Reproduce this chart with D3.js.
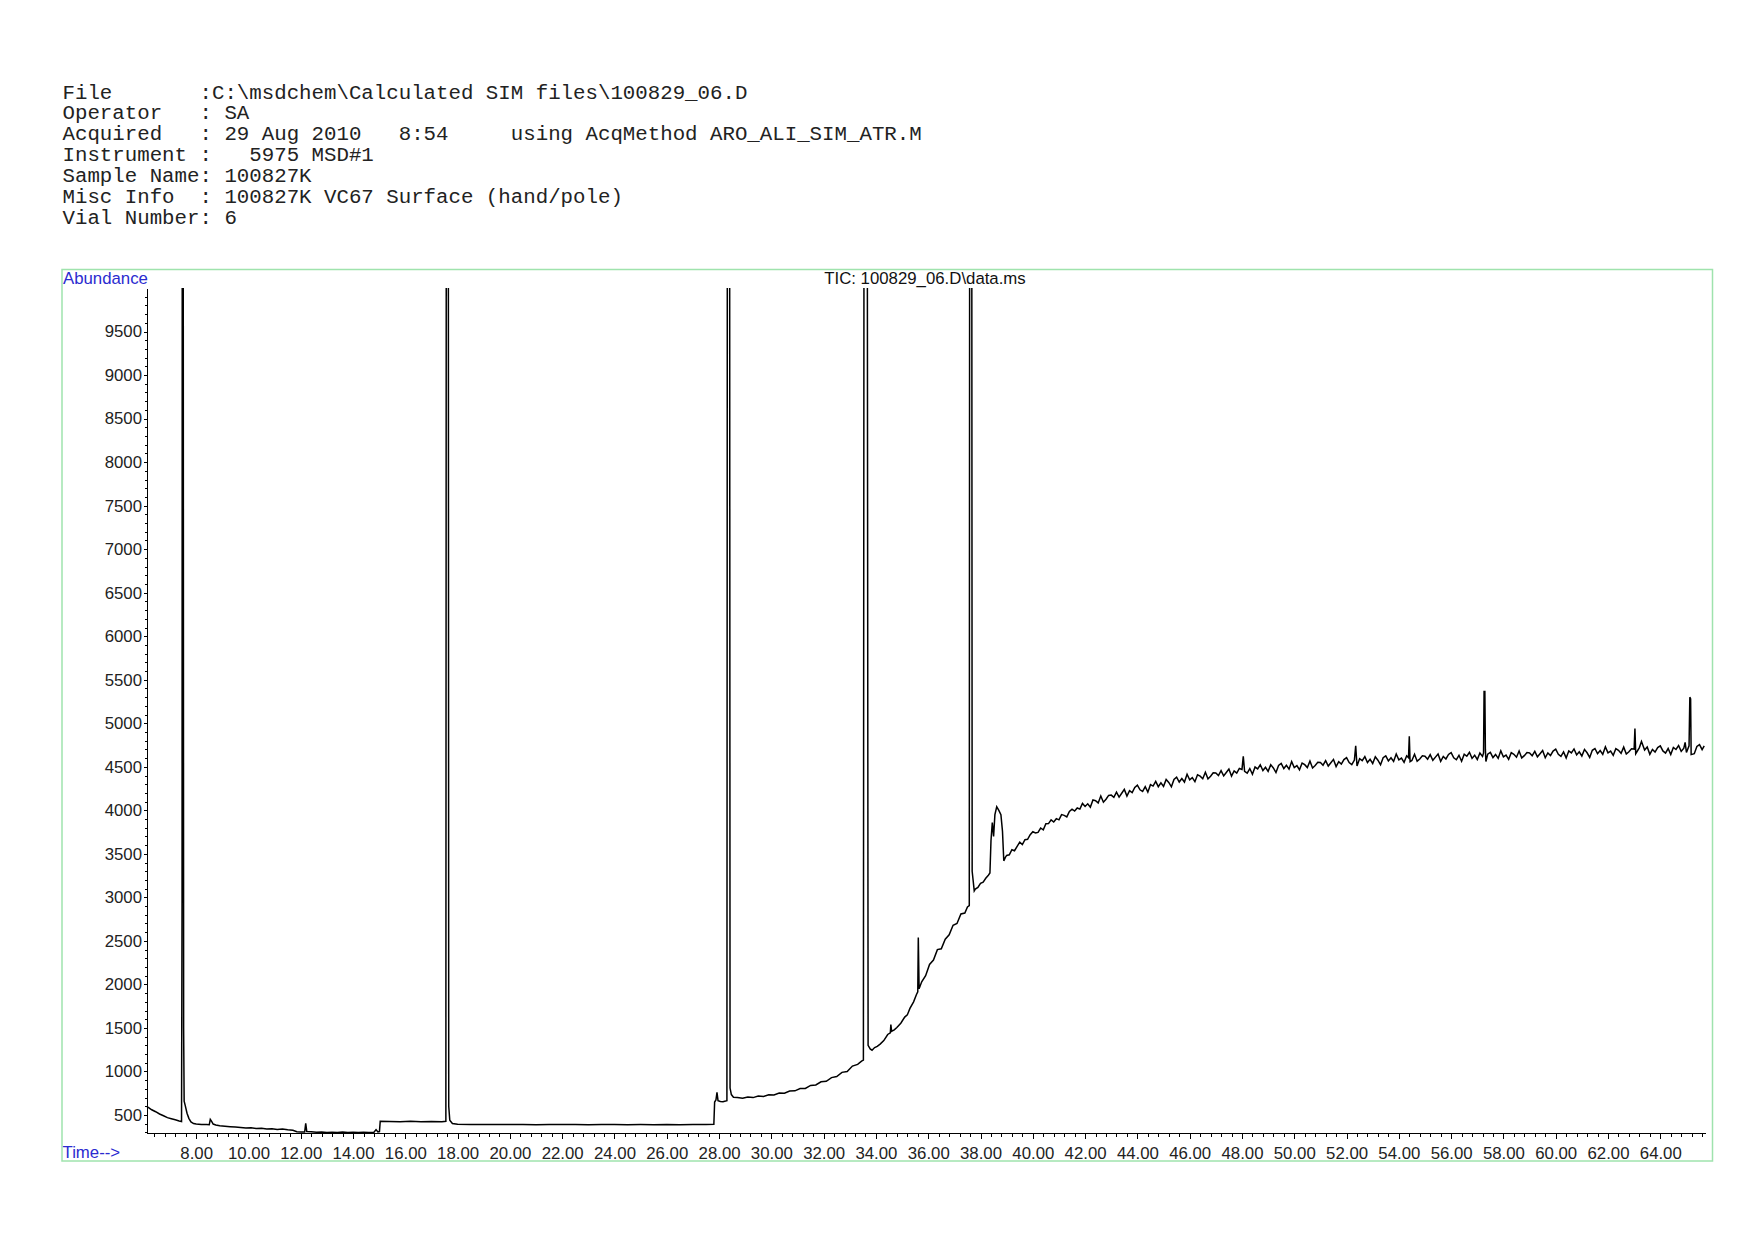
<!DOCTYPE html>
<html>
<head>
<meta charset="utf-8">
<script src="https://cdn.jsdelivr.net/npm/d3@7"></script>
<style>
body { margin: 0; background: #fff; }
</style>
</head>
<body>
<div class="chart"></div>
<script>
// report header, as printed by the data system
var headerLines = [
	'File       :C:\\msdchem\\Calculated SIM files\\100829_06.D',
	'Operator   : SA',
	'Acquired   : 29 Aug 2010   8:54     using AcqMethod ARO_ALI_SIM_ATR.M',
	'Instrument :   5975 MSD#1',
	'Sample Name: 100827K',
	'Misc Info  : 100827K VC67 Surface (hand/pole)',
	'Vial Number: 6'
];
var chartTitle = 'TIC: 100829_06.D\\data.ms';
var yLabel = 'Abundance';
var xLabel = 'Time-->';

var yTicks = [500, 1000, 1500, 2000, 2500, 3000, 3500, 4000, 4500, 5000,
	5500, 6000, 6500, 7000, 7500, 8000, 8500, 9000, 9500];
var xTicks = [8, 10, 12, 14, 16, 18, 20, 22, 24, 26, 28, 30, 32, 34, 36,
	38, 40, 42, 44, 46, 48, 50, 52, 54, 56, 58, 60, 62, 64];

// TIC trace: [time (min), abundance]
// big peaks run off the top of the scale, so they are given as 14000
var tic = [
	[6.10, 600], [6.18, 585], [6.30, 560], [6.45, 538], [6.60, 512], [6.75, 492],
	[6.90, 470], [7.05, 458], [7.20, 445], [7.35, 432], [7.44, 425],
	[7.46, 3000], [7.47, 14000], [7.50, 14000], [7.52, 1500], [7.54, 660],
	[7.58, 610], [7.65, 520], [7.72, 462], [7.80, 420], [7.90, 402], [8.00, 396],
	[8.20, 392], [8.40, 390], [8.50, 388], [8.54, 450], [8.58, 432], [8.65, 396],
	[8.75, 385], [8.90, 376], [9.10, 372], [9.30, 366], [9.50, 361], [9.70, 357],
	[9.90, 350], [10.10, 354], [10.30, 345], [10.50, 349], [10.70, 340], [10.90, 343],
	[11.10, 335], [11.30, 338], [11.50, 330], [11.70, 325], [11.85, 308], [12.00, 305],
	[12.15, 306], [12.19, 405], [12.23, 310], [12.40, 308], [12.60, 302], [12.80, 306],
	[13.00, 300], [13.20, 303], [13.40, 300], [13.60, 305], [13.80, 300], [14.00, 302],
	[14.20, 300], [14.40, 303], [14.60, 300], [14.80, 302], [14.88, 332], [14.95, 306],
	[15.01, 310], [15.04, 428], [15.40, 426], [15.80, 424], [16.20, 427], [16.60, 424],
	[17.00, 425], [17.40, 423], [17.55, 428],
	[17.57, 14000], [17.64, 14000], [17.66, 600], [17.70, 440], [17.80, 402], [18.00, 394],
	[18.50, 392], [19.00, 390], [19.50, 392], [20.00, 390], [20.50, 391], [21.00, 389],
	[21.50, 391], [22.00, 390], [22.50, 392], [23.00, 389], [23.50, 391], [24.00, 390],
	[24.50, 388], [25.00, 390], [25.50, 389], [26.00, 391], [26.50, 389], [27.00, 392],
	[27.50, 390], [27.80, 393],
	[27.83, 650], [27.88, 672], [27.92, 760], [27.96, 665], [28.05, 655], [28.15, 652],
	[28.25, 660], [28.30, 665],
	[28.32, 14000], [28.40, 14000], [28.42, 810], [28.47, 735], [28.55, 705], [28.70, 700],
	[28.90, 692], [29.10, 706], [29.30, 700], [29.50, 718], [29.70, 712], [29.90, 732],
	[30.10, 730], [30.30, 752], [30.50, 750], [30.70, 775], [30.90, 778], [31.10, 805],
	[31.30, 806], [31.50, 840], [31.70, 845], [31.90, 882], [32.10, 888], [32.30, 930],
	[32.50, 942], [32.70, 990], [32.90, 1000], [33.10, 1062], [33.30, 1082], [33.45, 1118],
	[33.52, 1130],
	[33.55, 14000], [33.66, 14000], [33.70, 1300], [33.78, 1260], [33.85, 1245], [33.95, 1275],
	[34.05, 1288], [34.16, 1315], [34.30, 1355], [34.45, 1425], [34.55, 1445], [34.57, 1540],
	[34.60, 1462], [34.70, 1478], [34.80, 1505], [34.95, 1555], [35.10, 1625], [35.20, 1650],
	[35.30, 1725], [35.44, 1800], [35.55, 1885], [35.60, 1915], [35.62, 2540], [35.65, 1950],
	[35.75, 2030], [35.90, 2100], [36.05, 2230], [36.20, 2280], [36.35, 2400], [36.50, 2410],
	[36.65, 2520], [36.80, 2570], [36.95, 2680], [37.10, 2700], [37.25, 2810], [37.40, 2820],
	[37.50, 2890], [37.57, 2905],
	[37.59, 14000], [37.66, 14000], [37.68, 3300], [37.76, 3075], [37.80, 3095], [37.90, 3115],
	[38.00, 3160], [38.10, 3175], [38.20, 3220], [38.30, 3255], [38.36, 3280], [38.40, 3650],
	[38.45, 3860], [38.50, 3700], [38.55, 3950], [38.62, 4040], [38.70, 4000], [38.78, 3950],
	[38.84, 3760], [38.89, 3420], [38.95, 3460],
	[39.0, 3482], [39.1, 3489], [39.2, 3547], [39.3, 3536], [39.4, 3585], [39.5, 3634],
	[39.6, 3606], [39.7, 3662], [39.8, 3667], [39.9, 3720], [40.0, 3755], [40.1, 3740],
	[40.2, 3746], [40.3, 3797], [40.4, 3776], [40.5, 3845], [40.6, 3847], [40.7, 3891],
	[40.8, 3866], [40.9, 3904], [41.0, 3891], [41.1, 3951], [41.2, 3942], [41.3, 3924],
	[41.4, 3987], [41.5, 4014], [41.6, 3992], [41.7, 4027], [41.8, 4014], [41.9, 4079],
	[42.0, 4045], [42.1, 4075], [42.2, 4035], [42.3, 4120], [42.4, 4110], [42.5, 4085],
	[42.6, 4164], [42.7, 4093], [42.8, 4127], [42.9, 4171], [43.0, 4175], [43.1, 4149],
	[43.2, 4208], [43.3, 4152], [43.4, 4196], [43.5, 4240], [43.6, 4163], [43.7, 4226],
	[43.8, 4204], [43.9, 4262], [44.0, 4290], [44.1, 4236], [44.2, 4217], [44.3, 4273],
	[44.4, 4209], [44.5, 4295], [44.6, 4279], [44.7, 4333], [44.8, 4272], [44.9, 4316],
	[45.0, 4275], [45.1, 4355], [45.2, 4320], [45.3, 4270], [45.4, 4355], [45.5, 4380],
	[45.6, 4325], [45.7, 4365], [45.8, 4325], [45.9, 4415], [46.0, 4350], [46.1, 4375],
	[46.2, 4329], [46.3, 4409], [46.4, 4393], [46.5, 4363], [46.6, 4437], [46.7, 4362],
	[46.8, 4391], [46.9, 4431], [47.0, 4430], [47.1, 4400], [47.2, 4455], [47.3, 4395],
	[47.4, 4435], [47.5, 4475], [47.6, 4394], [47.7, 4453], [47.8, 4427], [47.9, 4481],
	[48.0, 4470], [48.05, 4620], [48.1, 4448], [48.2, 4427], [48.3, 4480], [48.4, 4414],
	[48.5, 4497], [48.6, 4475], [48.7, 4523], [48.8, 4457], [48.9, 4495], [49.0, 4448],
	[49.1, 4525], [49.2, 4487], [49.3, 4434], [49.4, 4516], [49.5, 4538], [49.6, 4480],
	[49.7, 4517], [49.8, 4473], [49.9, 4560], [50.0, 4492], [50.1, 4514], [50.2, 4466],
	[50.3, 4543], [50.4, 4525], [50.5, 4492], [50.6, 4565], [50.7, 4487], [50.8, 4515],
	[50.9, 4552], [51.0, 4550], [51.1, 4518], [51.2, 4571], [51.3, 4509], [51.4, 4547],
	[51.5, 4585], [51.6, 4502], [51.7, 4559], [51.8, 4531], [51.9, 4583], [52.0, 4605],
	[52.1, 4548], [52.2, 4525], [52.3, 4578], [52.35, 4740], [52.4, 4510], [52.5, 4593],
	[52.6, 4570], [52.7, 4617], [52.8, 4549], [52.9, 4586], [53.0, 4538], [53.1, 4615],
	[53.2, 4576], [53.3, 4523], [53.4, 4604], [53.5, 4626], [53.6, 4568], [53.7, 4604],
	[53.8, 4561], [53.9, 4647], [54.0, 4579], [54.1, 4600], [54.2, 4551], [54.3, 4627],
	[54.37, 4605], [54.40, 4850], [54.43, 4560], [54.5, 4573], [54.6, 4644], [54.7, 4565],
	[54.8, 4590], [54.9, 4626], [55.0, 4622], [55.1, 4588], [55.2, 4639], [55.3, 4575],
	[55.4, 4611], [55.5, 4647], [55.6, 4563], [55.7, 4619], [55.8, 4590], [55.9, 4642],
	[56.0, 4663], [56.1, 4604], [56.2, 4581], [56.3, 4632], [56.4, 4564], [56.5, 4645],
	[56.6, 4621], [56.7, 4667], [56.8, 4597], [56.9, 4633], [57.0, 4584], [57.1, 4659],
	[57.2, 4620], [57.24, 4660], [57.26, 5365], [57.29, 5365], [57.31, 4700], [57.33, 4560],
	[57.4, 4645], [57.5, 4666], [57.6, 4606], [57.7, 4642], [57.8, 4597], [57.9, 4683],
	[58.0, 4613], [58.1, 4634], [58.2, 4586], [58.3, 4662], [58.4, 4644], [58.5, 4610],
	[58.6, 4681], [58.7, 4602], [58.8, 4628], [58.9, 4664], [59.0, 4660], [59.1, 4627],
	[59.2, 4678], [59.3, 4615], [59.4, 4651], [59.5, 4688], [59.6, 4604], [59.7, 4660],
	[59.8, 4630], [59.9, 4681], [60.0, 4702], [60.1, 4643], [60.2, 4619], [60.3, 4671],
	[60.4, 4602], [60.5, 4683], [60.6, 4659], [60.7, 4705], [60.8, 4637], [60.9, 4673],
	[61.0, 4624], [61.1, 4700], [61.2, 4661], [61.3, 4608], [61.4, 4689], [61.5, 4710],
	[61.6, 4651], [61.7, 4687], [61.8, 4643], [61.9, 4729], [62.0, 4660], [62.1, 4681],
	[62.2, 4632], [62.3, 4708], [62.4, 4689], [62.5, 4655], [62.6, 4726], [62.7, 4647],
	[62.8, 4672], [62.9, 4708], [63.0, 4704], [63.03, 4940], [63.06, 4650], [63.1, 4670],
	[63.2, 4721], [63.28, 4790], [63.4, 4692], [63.5, 4728], [63.6, 4643], [63.7, 4699],
	[63.8, 4669], [63.9, 4720], [64.0, 4740], [64.1, 4682], [64.2, 4658], [64.3, 4710],
	[64.4, 4641], [64.5, 4723], [64.6, 4699], [64.7, 4745], [64.8, 4677], [64.9, 4713],
	[64.95, 4780], [65.0, 4665], [65.1, 4742], [65.13, 5300], [65.16, 5280], [65.18, 4640],
	[65.3, 4651], [65.4, 4733], [65.5, 4755], [65.6, 4697], [65.68, 4740]
];

var width = 1754;
var height = 1240;
var plot = {left: 146.5, right: 1705, top: 288, bottom: 1133.3};
var sansFont = '"Liberation Sans", Arial, sans-serif';
var labelSize = '16.8px';
var blue = '#2b2bd0';

var svg = d3.select('.chart')
	.append('svg')
	.attr('width', width)
	.attr('height', height);

svg.append('rect')
	.attr('width', width)
	.attr('height', height)
	.attr('fill', '#fff');

// header block
svg.append('g')
	.selectAll('text')
	.data(headerLines)
	.enter()
	.append('text')
	.attr('x', 62.5)
	.attr('y', function(d, i) { return 98.5 + i * 20.9; })
	.attr('xml:space', 'preserve')
	.style('white-space', 'pre')
	.style('font-family', '"Liberation Mono", "Courier New", monospace')
	.style('font-size', '20.75px')
	.style('fill', '#222')
	.text(function(d) { return d; });

// green frame round the plot
svg.append('rect')
	.attr('x', 62)
	.attr('y', 269.5)
	.attr('width', 1712.5 - 62)
	.attr('height', 1161 - 269.5)
	.attr('fill', 'none')
	.attr('stroke', '#9fe3ad')
	.attr('stroke-width', 1.5);

svg.append('text')
	.attr('x', 63)
	.attr('y', 284)
	.style('font-family', sansFont)
	.style('font-size', labelSize)
	.style('fill', blue)
	.text(yLabel);

svg.append('text')
	.attr('x', 62.5)
	.attr('y', 1158)
	.style('font-family', sansFont)
	.style('font-size', labelSize)
	.style('fill', blue)
	.text(xLabel);

svg.append('text')
	.attr('x', 925)
	.attr('y', 284)
	.attr('text-anchor', 'middle')
	.style('font-family', sansFont)
	.style('font-size', labelSize)
	.style('fill', '#111')
	.text(chartTitle);

var xScale = d3.scaleLinear()
	.domain([6.1, 65.71])
	.range([plot.left, plot.right]);

var yScale = d3.scaleLinear()
	.domain([290, 10000])
	.range([plot.bottom, plot.top]);

// minor ticks first, then the labelled ones
var xMinor = d3.range(6.4, 65.71, 0.4);
var yMinor = d3.range(300, 10000, 100);

svg.append('g')
	.attr('class', 'xminor')
	.attr('transform', 'translate(0, ' + plot.bottom + ')')
	.call(d3.axisBottom(xScale).tickValues(xMinor).tickFormat('').tickSizeInner(3.5).tickSizeOuter(0));

svg.append('g')
	.attr('class', 'yminor')
	.attr('transform', 'translate(' + plot.left + ', 0)')
	.call(d3.axisLeft(yScale).tickValues(yMinor).tickFormat('').tickSizeInner(1.6).tickSizeOuter(0));

var xAxis = d3.axisBottom(xScale)
	.tickValues(xTicks)
	.tickFormat(d3.format('.2f'))
	.tickSizeInner(6)
	.tickSizeOuter(0)
	.tickPadding(8);

svg.append('g')
	.attr('class', 'xaxis')
	.attr('transform', 'translate(0, ' + plot.bottom + ')')
	.call(xAxis);

var yAxis = d3.axisLeft(yScale)
	.tickValues(yTicks)
	.tickFormat(d3.format('d'))
	.tickSizeInner(3)
	.tickSizeOuter(0)
	.tickPadding(1.5);

svg.append('g')
	.attr('class', 'yaxis')
	.attr('transform', 'translate(' + plot.left + ', 0)')
	.call(yAxis);

svg.selectAll('.xaxis, .yaxis, .xminor, .yminor')
	.attr('shape-rendering', 'crispEdges');
svg.selectAll('.xaxis path, .yaxis path, .xminor path, .yminor path, .tick line')
	.attr('stroke', '#000');
svg.selectAll('.xaxis text, .yaxis text')
	.style('font-family', sansFont)
	.style('font-size', labelSize)
	.style('fill', '#222');

// trace, clipped to the axes box
svg.append('clipPath')
	.attr('id', 'plotclip')
	.append('rect')
	.attr('x', plot.left)
	.attr('y', plot.top)
	.attr('width', plot.right - plot.left)
	.attr('height', plot.bottom - plot.top);

var line = d3.line()
	.x(function(d) { return xScale(d[0]); })
	.y(function(d) { return yScale(d[1]); });

svg.append('path')
	.datum(tic)
	.attr('clip-path', 'url(#plotclip)')
	.attr('d', line)
	.style('fill', 'none')
	.style('stroke', '#000')
	.style('stroke-width', 1.5)
	.style('stroke-linejoin', 'miter');
</script>
</body>
</html>
